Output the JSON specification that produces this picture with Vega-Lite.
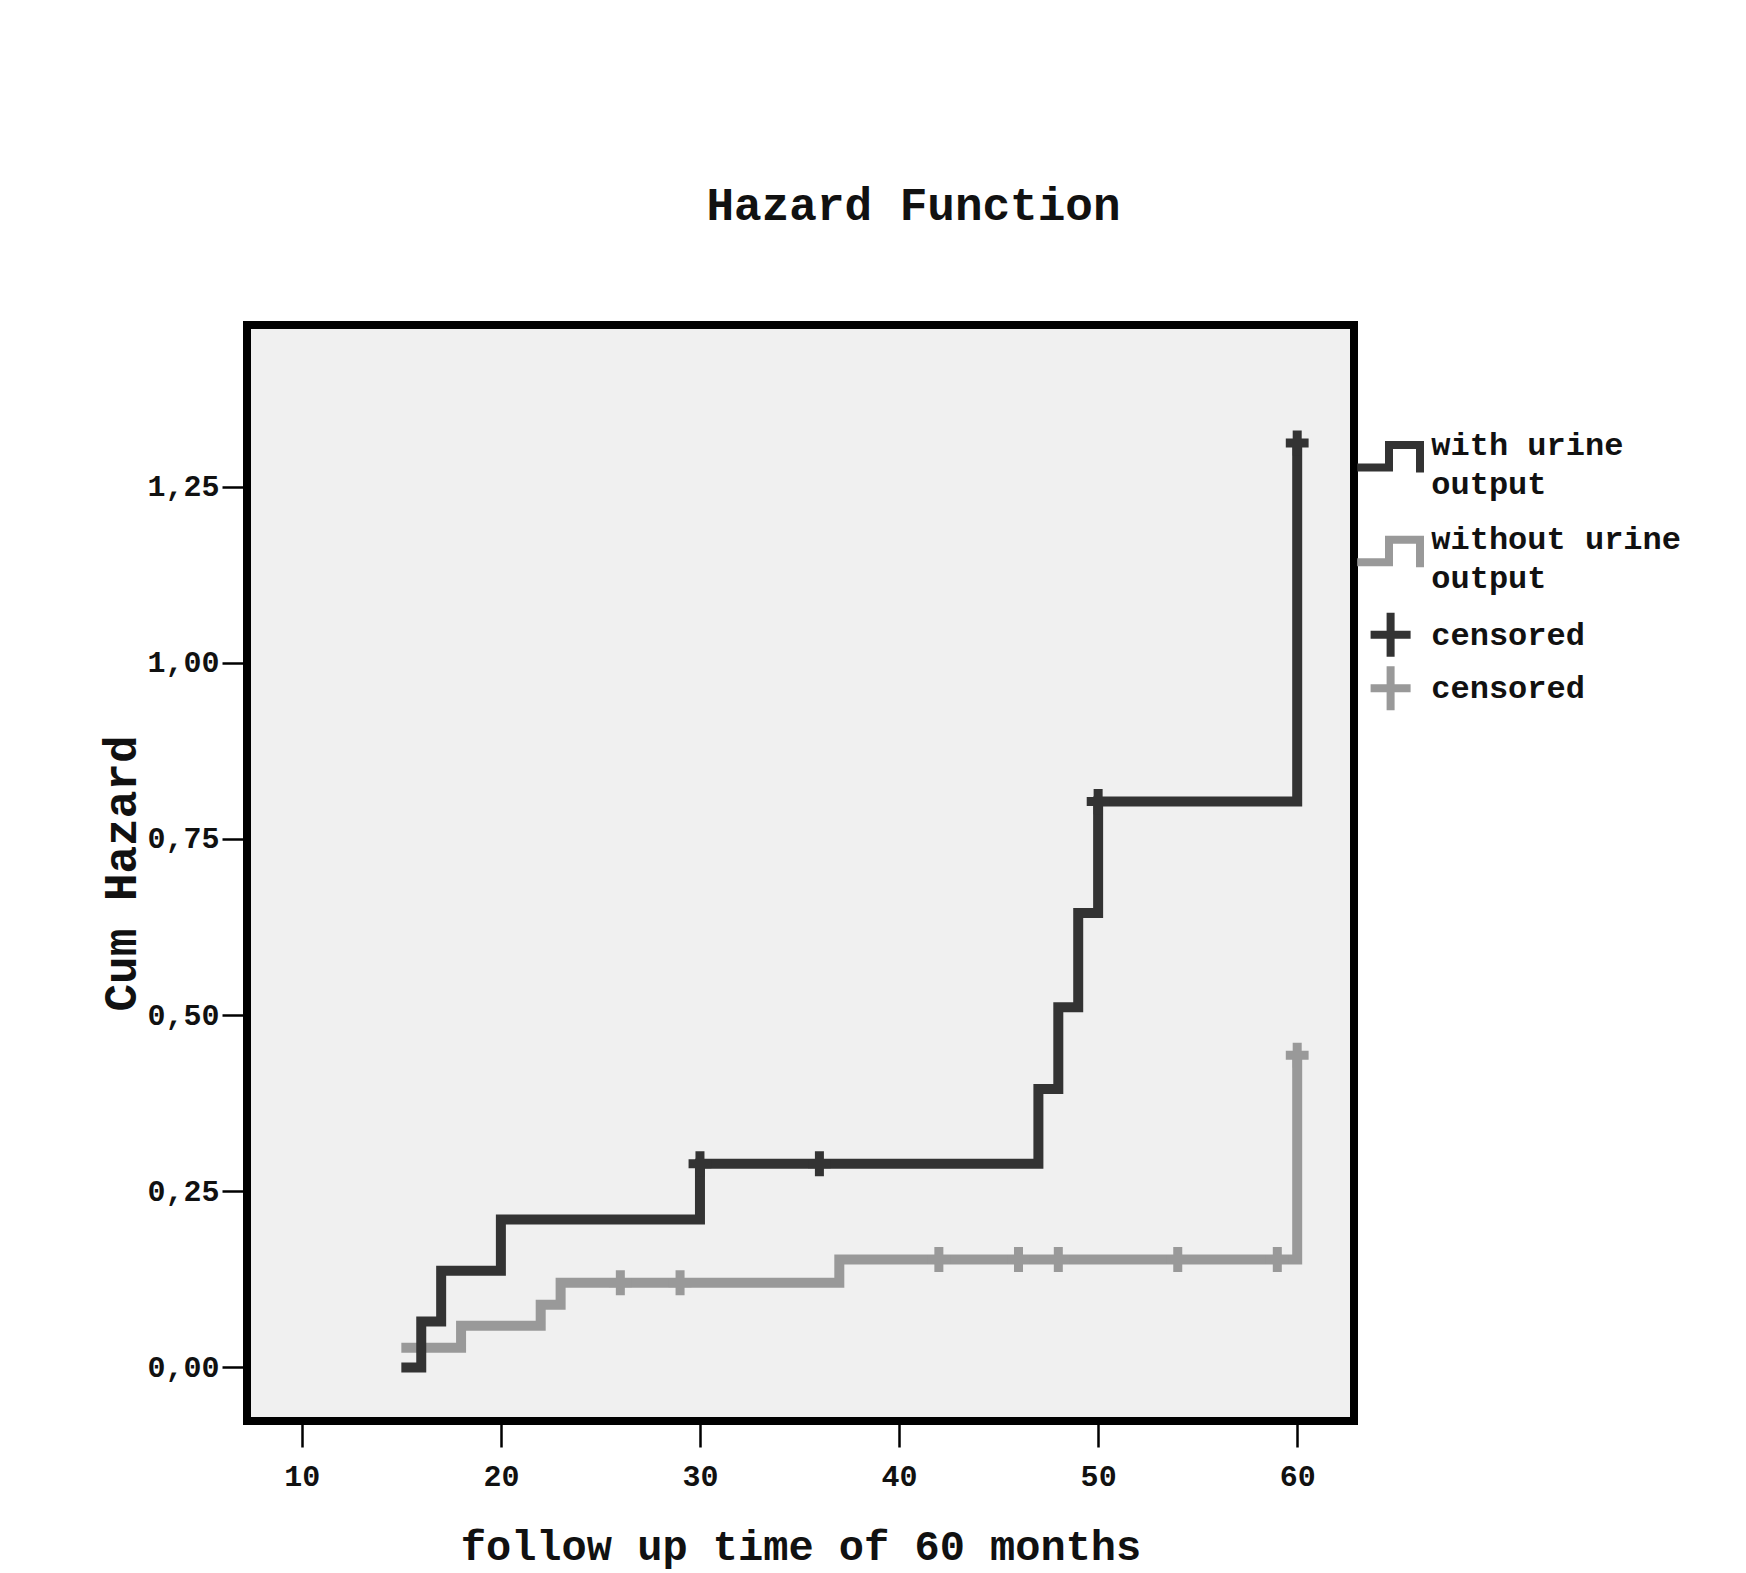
{
  "$schema": "https://vega.github.io/schema/vega-lite/v6.json",
  "width": 1107,
  "height": 1096,
  "autosize": {"type": "none"},
  "padding": {"left": 247, "top": 325, "right": 392, "bottom": 152},
  "background": "white",
  "title": {
    "text": "Hazard Function",
    "font": "Liberation Mono",
    "fontSize": 46,
    "fontWeight": "bold",
    "color": "#111111",
    "anchor": "middle",
    "dx": 113,
    "offset": 59,
    "baseline": "alphabetic"
  },
  "config": {
    "view": {"fill": "#f0f0f0", "stroke": "#000000", "strokeWidth": 8},
    "font": "Liberation Mono",
    "axis": {
      "domain": false,
      "grid": false,
      "tickColor": "#000000",
      "tickWidth": 2.5,
      "tickSize": 26,
      "labelFont": "Liberation Mono",
      "labelFontSize": 30,
      "labelFontWeight": "bold",
      "labelColor": "#111111",
      "titleFont": "Liberation Mono",
      "titleFontWeight": "bold",
      "titleColor": "#111111"
    },
    "legend": {
      "orient": "none",
      "title": null,
      "padding": 0,
      "symbolSize": 1600,
      "symbolStrokeWidth": 8,
      "labelFont": "Liberation Mono",
      "labelFontSize": 32,
      "labelFontWeight": "bold",
      "labelColor": "#111111",
      "labelLimit": 500,
      "labelOffset": 16.7
    }
  },
  "datasets": {
    "curves": [
      {"group": "without urine output", "time": 15, "hazard": 0.028},
      {"group": "without urine output", "time": 18, "hazard": 0.059},
      {"group": "without urine output", "time": 22, "hazard": 0.089},
      {"group": "without urine output", "time": 23, "hazard": 0.120},
      {"group": "without urine output", "time": 37, "hazard": 0.153},
      {"group": "without urine output", "time": 60, "hazard": 0.443},
      {"group": "with urine output", "time": 15, "hazard": 0.0},
      {"group": "with urine output", "time": 16, "hazard": 0.065},
      {"group": "with urine output", "time": 17, "hazard": 0.137},
      {"group": "with urine output", "time": 20, "hazard": 0.210},
      {"group": "with urine output", "time": 30, "hazard": 0.289},
      {"group": "with urine output", "time": 47, "hazard": 0.395},
      {"group": "with urine output", "time": 48, "hazard": 0.511},
      {"group": "with urine output", "time": 49, "hazard": 0.645},
      {"group": "with urine output", "time": 50, "hazard": 0.803},
      {"group": "with urine output", "time": 60, "hazard": 1.312}
    ],
    "censored_without": [
      {"group": "censored (without)", "time": 26, "hazard": 0.120},
      {"group": "censored (without)", "time": 29, "hazard": 0.120},
      {"group": "censored (without)", "time": 42, "hazard": 0.153},
      {"group": "censored (without)", "time": 46, "hazard": 0.153},
      {"group": "censored (without)", "time": 48, "hazard": 0.153},
      {"group": "censored (without)", "time": 54, "hazard": 0.153},
      {"group": "censored (without)", "time": 59, "hazard": 0.153},
      {"group": "censored (without)", "time": 60, "hazard": 0.443}
    ],
    "censored_with": [
      {"group": "censored (with)", "time": 30, "hazard": 0.289},
      {"group": "censored (with)", "time": 36, "hazard": 0.289},
      {"group": "censored (with)", "time": 50, "hazard": 0.803},
      {"group": "censored (with)", "time": 60, "hazard": 1.312}
    ]
  },
  "encoding": {
    "x": {
      "field": "time",
      "type": "quantitative",
      "scale": {"domain": [7.247, 62.853], "nice": false, "zero": false},
      "axis": {
        "values": [10, 20, 30, 40, 50, 60],
        "title": "follow up time of 60 months",
        "titleFontSize": 42,
        "labelPadding": 14,
        "titlePadding": 35
      }
    },
    "y": {
      "field": "hazard",
      "type": "quantitative",
      "scale": {"domain": [-0.0761, 1.4794], "nice": false, "zero": false},
      "axis": {
        "values": [0, 0.25, 0.5, 0.75, 1, 1.25],
        "labelExpr": "replace(format(datum.value, '.2f'), '.', ',')",
        "title": "Cum Hazard",
        "titleFontSize": 46,
        "tickSize": 25,
        "labelPadding": 3,
        "titlePadding": 1
      }
    }
  },
  "layer": [
    {
      "data": {"name": "curves"},
      "mark": {"type": "line", "interpolate": "step-after", "strokeWidth": 10, "strokeJoin": "miter", "strokeCap": "butt"},
      "encoding": {
        "order": {"field": "time"},
        "color": {
          "field": "group",
          "type": "nominal",
          "scale": {
            "domain": ["with urine output", "without urine output"],
            "range": ["#333333", "#999999"]
          },
          "legend": {
            "legendX": 1119.6,
            "legendY": 95.6,
            "rowPadding": 15.7,
            "symbolType": "M-1.67,1.15H-0.08V0.02H1.47V1.40",
            "symbolFillColor": "transparent",
            "labelExpr": "datum.label == 'with urine output' ? ['with urine', 'output'] : ['without urine', 'output']",
            "encode": {
              "symbols": {"update": {"fill": {"value": "transparent"}, "strokeWidth": {"value": 8}}},
              "labels": {"update": {"lineHeight": {"value": 39}}}
            }
          }
        }
      }
    },
    {
      "data": {"name": "censored_with"},
      "mark": {"type": "point", "shape": "M0,-1.1V1.1M-1,0H1", "filled": false, "strokeWidth": 9, "size": 520, "opacity": 1},
      "encoding": {
        "color": {
          "field": "group",
          "type": "nominal",
          "scale": {"domain": ["censored (with)"], "range": ["#333333"]},
          "legend": {
            "legendX": 1119.6,
            "legendY": 285.8,
            "symbolType": "M0,-1.1V1.1M-1,0H1",
            "labelExpr": "'censored'",
            "encode": {
              "symbols": {"update": {"fill": {"value": "transparent"}, "strokeWidth": {"value": 14}}}
            }
          }
        }
      }
    },
    {
      "data": {"name": "censored_without"},
      "mark": {"type": "point", "shape": "M0,-1.1V1.1M-1,0H1", "filled": false, "strokeWidth": 9, "size": 520, "opacity": 1},
      "encoding": {
        "color": {
          "field": "group",
          "type": "nominal",
          "scale": {"domain": ["censored (without)"], "range": ["#999999"]},
          "legend": {
            "legendX": 1119.6,
            "legendY": 339.2,
            "symbolType": "M0,-1.1V1.1M-1,0H1",
            "labelExpr": "'censored'",
            "encode": {
              "symbols": {"update": {"fill": {"value": "transparent"}, "strokeWidth": {"value": 14}}}
            }
          }
        }
      }
    }
  ],
  "resolve": {"scale": {"color": "independent"}, "legend": {"color": "independent"}}
}
